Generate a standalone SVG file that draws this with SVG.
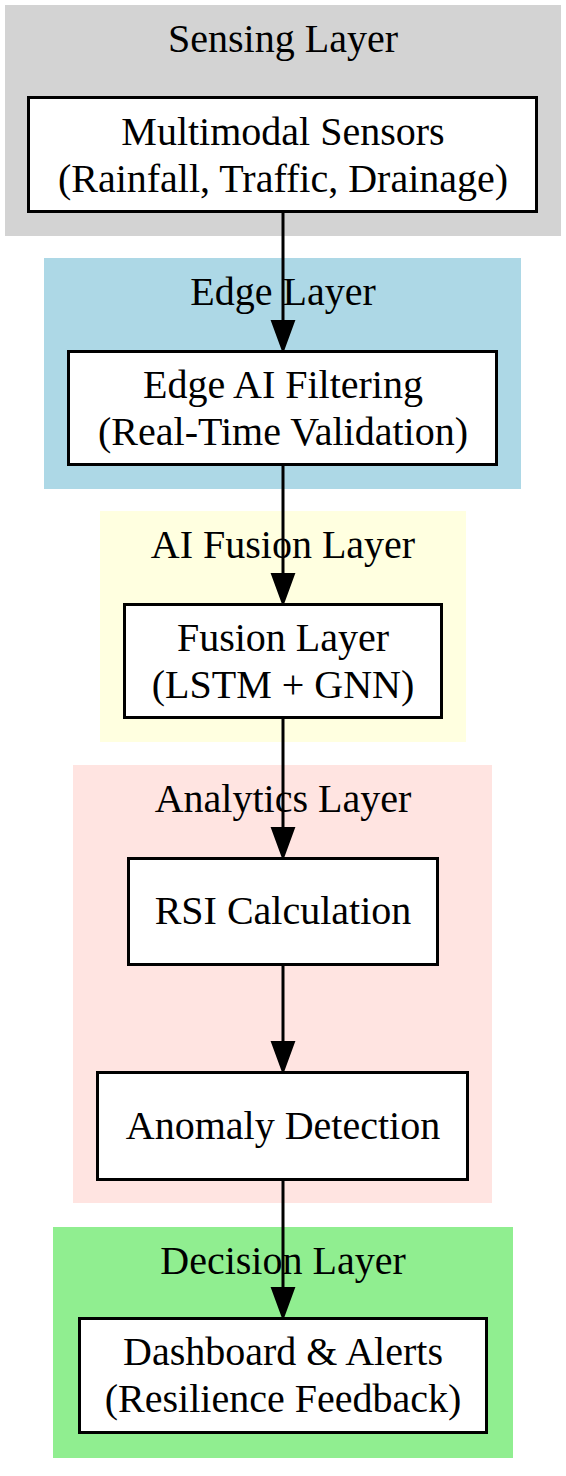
<svg xmlns="http://www.w3.org/2000/svg" width="566" height="1476" viewBox="0 0 566 1476">
<defs>
<style>
.node rect{fill:#ffffff;stroke:#000000;stroke-width:3}
text{font-family:"Liberation Serif","Times New Roman",serif;font-size:40px;fill:#000000;text-anchor:middle}
.edge{stroke:#000000;stroke-width:3;fill:none;marker-end:url(#arrow)}
</style>
<marker id="arrow" markerUnits="userSpaceOnUse" markerWidth="34" markerHeight="26" viewBox="-2 -2 34 26" refX="0" refY="11" orient="auto">
<path d="M0,0 L30,11 L0,22 z" fill="#000000" stroke="#000000" stroke-width="2"/>
</marker>
</defs>
<rect width="566" height="1476" fill="#ffffff"/>
<g id="cluster_sensing">
<rect x="5" y="5" width="556" height="231" fill="#d3d3d3"/>
<text x="283" y="52">Sensing Layer</text>
</g>
<g id="cluster_edge">
<rect x="44" y="258" width="477" height="231" fill="#add8e6"/>
<text x="283" y="305">Edge Layer</text>
</g>
<g id="cluster_fusion">
<rect x="100" y="511" width="366" height="231" fill="#ffffe0"/>
<text x="283" y="558">AI Fusion Layer</text>
</g>
<g id="cluster_analytics">
<rect x="73" y="765" width="419" height="438" fill="#ffe4e1"/>
<text x="283" y="812">Analytics Layer</text>
</g>
<g id="cluster_decision">
<rect x="53" y="1227" width="460" height="231" fill="#90ee90"/>
<text x="283" y="1274">Decision Layer</text>
</g>
<g id="node_sensors" class="node">
<rect x="28.5" y="97.5" width="508" height="114"/>
<text x="283" y="145">Multimodal Sensors</text>
<text x="283" y="192">(Rainfall, Traffic, Drainage)</text>
</g>
<g id="node_edge_ai" class="node">
<rect x="68.5" y="351.5" width="428" height="113"/>
<text x="283" y="398">Edge AI Filtering</text>
<text x="283" y="445">(Real-Time Validation)</text>
</g>
<g id="node_fusion" class="node">
<rect x="124.5" y="604.5" width="317" height="113"/>
<text x="283" y="651">Fusion Layer</text>
<text x="283" y="698">(LSTM + GNN)</text>
</g>
<g id="node_rsi" class="node">
<rect x="128.5" y="858.5" width="309" height="106"/>
<text x="283" y="924">RSI Calculation</text>
</g>
<g id="node_anomaly" class="node">
<rect x="97.5" y="1072.5" width="370" height="107"/>
<text x="283" y="1139">Anomaly Detection</text>
</g>
<g id="node_dashboard" class="node">
<rect x="79.5" y="1318.5" width="407" height="114"/>
<text x="283" y="1365">Dashboard &amp; Alerts</text>
<text x="283" y="1412">(Resilience Feedback)</text>
</g>
<g id="connectors">
<path class="edge" d="M283,212 L283,321"/>
<path class="edge" d="M283,465 L283,574"/>
<path class="edge" d="M283,718 L283,828"/>
<path class="edge" d="M283,965 L283,1042"/>
<path class="edge" d="M283,1180 L283,1288"/>
</g>
</svg>
